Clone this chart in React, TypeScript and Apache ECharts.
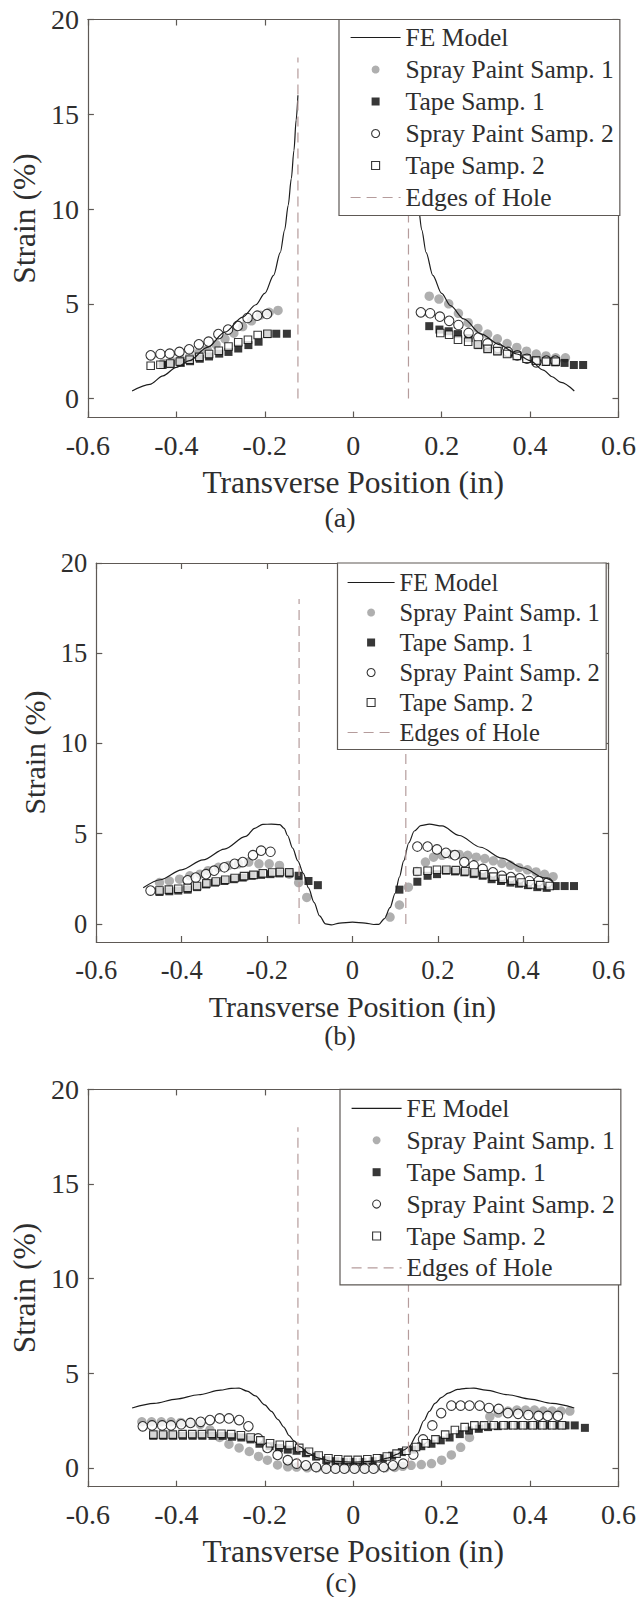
import React, { useEffect, useRef } from "react";
import * as echarts from "echarts";

type Pt = [number, number];

// ---------- axes ----------
const X_TICKS = [-0.6, -0.4, -0.2, 0, 0.2, 0.4, 0.6];
const Y_TICKS = [0, 5, 10, 15, 20];
const X_MIN = -0.6;
const X_MAX = 0.6;
const Y_MIN = -1;
const Y_MAX = 20;

// hole edges (in) and the height the edge markers are drawn to (%)
const HOLE_EDGES = [-0.125, 0.125];
const HOLE_LINE_TOP = 18;

const NAMES = {
  fe: "FE Model",
  sp1: "Spray Paint Samp. 1",
  t1: "Tape Samp. 1",
  sp2: "Spray Paint Samp. 2",
  t2: "Tape Samp. 2",
  edge: "Edges of Hole",
};
const PANEL_LABELS = ["(a)", "(b)", "(c)"];
const X_TITLE = "Transverse Position (in)";
const Y_TITLE = "Strain (%)";

// ---------- panel (a) ----------
const FE_A_LEFT: Pt[] = [
  [-0.5, 0.4], [-0.46, 0.75], [-0.43, 1.2], [-0.4, 1.65], [-0.37, 2.0], [-0.33, 2.7],
  [-0.29, 3.5], [-0.25, 4.3], [-0.22, 4.95], [-0.2, 5.55], [-0.18, 6.5], [-0.165, 7.7],
  [-0.155, 8.9], [-0.147, 10.2], [-0.14, 11.6], [-0.134, 13.1], [-0.129, 14.7], [-0.125, 16.0],
];
const FE_A_RIGHT: Pt[] = [
  [0.125, 16.0], [0.129, 14.7], [0.134, 13.1], [0.14, 11.6], [0.147, 10.2], [0.155, 8.9],
  [0.165, 7.7], [0.18, 6.5], [0.2, 5.55], [0.22, 4.9], [0.25, 4.2], [0.29, 3.4], [0.33, 2.85],
  [0.37, 2.35], [0.4, 2.0], [0.43, 1.5], [0.45, 1.15], [0.47, 0.85], [0.5, 0.4],
];
const SP1_A: Pt[] = [
  [-0.43, 1.85], [-0.41, 1.95], [-0.39, 2.05], [-0.37, 2.2], [-0.35, 2.4], [-0.33, 2.6],
  [-0.31, 2.85], [-0.29, 3.15], [-0.27, 3.45], [-0.25, 3.8], [-0.23, 4.1], [-0.21, 4.4],
  [-0.19, 4.55], [-0.17, 4.65],
  [0.172, 5.4], [0.194, 5.25], [0.216, 5.0], [0.238, 4.5], [0.26, 4.0], [0.282, 3.7],
  [0.304, 3.4], [0.326, 3.15], [0.348, 2.9], [0.37, 2.7], [0.392, 2.5], [0.414, 2.35],
  [0.436, 2.25], [0.458, 2.15], [0.48, 2.15],
];
const T1_A: Pt[] = [
  [-0.431, 1.77], [-0.413, 1.82], [-0.39, 1.88], [-0.369, 1.97], [-0.347, 2.1], [-0.326, 2.22],
  [-0.303, 2.37], [-0.282, 2.46], [-0.26, 2.64], [-0.237, 2.82], [-0.214, 3.0], [-0.194, 3.4],
  [-0.174, 3.42], [-0.15, 3.42],
  [0.172, 3.82], [0.195, 3.64], [0.216, 3.55], [0.237, 3.4], [0.261, 3.19], [0.283, 2.82],
  [0.304, 2.64], [0.327, 2.5], [0.35, 2.37], [0.371, 2.28], [0.393, 2.1], [0.414, 2.0],
  [0.437, 1.95], [0.457, 1.91], [0.478, 1.88], [0.499, 1.77], [0.52, 1.77],
];
const SP2_A: Pt[] = [
  [-0.458, 2.28], [-0.436, 2.35], [-0.415, 2.37], [-0.393, 2.46], [-0.371, 2.6], [-0.349, 2.86],
  [-0.327, 3.0], [-0.305, 3.4], [-0.283, 3.64], [-0.261, 3.83], [-0.239, 4.25], [-0.217, 4.37],
  [-0.195, 4.46],
  [0.153, 4.55], [0.174, 4.5], [0.196, 4.32], [0.217, 4.1], [0.238, 3.88], [0.261, 3.46],
  [0.283, 3.22], [0.304, 2.91], [0.327, 2.68], [0.35, 2.46], [0.371, 2.28], [0.393, 2.1],
  [0.414, 1.91], [0.437, 2.0], [0.457, 2.0],
];
const T2_A: Pt[] = [
  [-0.458, 1.73], [-0.436, 1.78], [-0.414, 1.85], [-0.392, 1.95], [-0.37, 2.05], [-0.348, 2.2],
  [-0.326, 2.35], [-0.304, 2.52], [-0.282, 2.75], [-0.26, 2.97], [-0.238, 3.1], [-0.216, 3.35],
  [-0.194, 3.42],
  [0.197, 3.46], [0.217, 3.37], [0.237, 3.1], [0.26, 3.0], [0.282, 2.85], [0.304, 2.62],
  [0.326, 2.5], [0.348, 2.35], [0.37, 2.25], [0.392, 2.1], [0.414, 2.0], [0.436, 1.95],
  [0.458, 1.95],
];

// ---------- panel (b) ----------
const FE_B: Pt[] = [
  [-0.49, 2.0], [-0.45, 2.45], [-0.4, 3.0], [-0.35, 3.55], [-0.3, 4.15], [-0.25, 4.85],
  [-0.229, 5.3], [-0.21, 5.52], [-0.19, 5.53], [-0.17, 5.5], [-0.16, 5.3], [-0.152, 4.9],
  [-0.14, 4.2], [-0.128, 3.5], [-0.115, 2.8], [-0.103, 2.0], [-0.09, 1.2], [-0.077, 0.45],
  [-0.063, 0.0], [-0.05, -0.05], [-0.03, 0.05], [0, 0.1], [0.03, 0.05], [0.05, -0.03],
  [0.062, -0.02], [0.075, 0.3], [0.088, 0.9], [0.1, 1.7], [0.11, 2.6], [0.12, 3.5],
  [0.132, 4.5], [0.145, 5.15], [0.16, 5.45], [0.18, 5.53], [0.21, 5.43], [0.25, 4.9],
  [0.3, 4.25], [0.35, 3.65], [0.4, 3.1], [0.45, 2.55], [0.47, 2.35],
];
const SP1_B: Pt[] = [
  [-0.452, 2.29], [-0.429, 2.38], [-0.405, 2.48], [-0.381, 2.67], [-0.357, 2.76], [-0.338, 2.95],
  [-0.314, 3.14], [-0.29, 3.24], [-0.267, 3.33], [-0.243, 3.43], [-0.219, 3.33], [-0.195, 3.33],
  [-0.171, 3.24], [-0.148, 2.76], [-0.126, 2.29], [-0.107, 1.47],
  [0.088, 0.38], [0.11, 1.05], [0.131, 2.04], [0.151, 2.9], [0.171, 3.43], [0.19, 3.7],
  [0.21, 3.8], [0.23, 3.85], [0.25, 3.85], [0.27, 3.8], [0.29, 3.7], [0.31, 3.62],
  [0.33, 3.5], [0.35, 3.35], [0.37, 3.25], [0.39, 3.12], [0.41, 3.0], [0.43, 2.88],
  [0.45, 2.75], [0.47, 2.62],
];
const T1_B: Pt[] = [
  [-0.452, 1.77], [-0.429, 1.81], [-0.408, 1.85], [-0.386, 1.9], [-0.364, 2.04], [-0.343, 2.19],
  [-0.322, 2.29], [-0.3, 2.38], [-0.278, 2.48], [-0.257, 2.57], [-0.236, 2.67], [-0.214, 2.72],
  [-0.192, 2.76], [-0.171, 2.8], [-0.148, 2.8], [-0.126, 2.67], [-0.103, 2.38], [-0.081, 2.15],
  [0.11, 1.9], [0.152, 2.34], [0.176, 2.67], [0.198, 2.76], [0.219, 2.95], [0.24, 2.91],
  [0.262, 2.86], [0.284, 2.76], [0.305, 2.67], [0.326, 2.48], [0.348, 2.38], [0.37, 2.29],
  [0.39, 2.23], [0.411, 2.15], [0.433, 2.04], [0.455, 2.0], [0.476, 2.1], [0.497, 2.1],
  [0.519, 2.1],
];
const SP2_B: Pt[] = [
  [-0.473, 1.85], [-0.386, 2.42], [-0.367, 2.57], [-0.343, 2.76], [-0.324, 2.95], [-0.3, 3.14],
  [-0.276, 3.33], [-0.257, 3.43], [-0.233, 3.81], [-0.214, 4.06], [-0.192, 4.0],
  [0.152, 4.29], [0.176, 4.29], [0.198, 4.13], [0.219, 3.94], [0.24, 3.81], [0.262, 3.43],
  [0.284, 3.24], [0.305, 3.05], [0.329, 2.86], [0.35, 2.67], [0.371, 2.6], [0.392, 2.53],
  [0.414, 2.38], [0.436, 2.38], [0.457, 2.29],
];
const T2_B: Pt[] = [
  [-0.452, 1.85], [-0.43, 1.9], [-0.408, 1.95], [-0.386, 2.0], [-0.364, 2.1], [-0.342, 2.25],
  [-0.32, 2.35], [-0.298, 2.45], [-0.276, 2.55], [-0.254, 2.65], [-0.232, 2.72], [-0.21, 2.8],
  [-0.188, 2.85], [-0.17, 2.88], [-0.148, 2.86],
  [0.152, 2.91], [0.176, 2.95], [0.198, 3.0], [0.22, 3.0], [0.242, 2.98], [0.264, 2.92],
  [0.286, 2.85], [0.308, 2.75], [0.33, 2.62], [0.352, 2.5], [0.374, 2.4], [0.396, 2.3],
  [0.418, 2.2], [0.44, 2.15], [0.462, 2.1],
];

// ---------- panel (c) ----------
const FE_C: Pt[] = [
  [-0.5, 3.16], [-0.45, 3.4], [-0.4, 3.63], [-0.35, 3.86], [-0.3, 4.1], [-0.276, 4.2],
  [-0.258, 4.21], [-0.24, 4.05], [-0.221, 3.8], [-0.2, 3.32], [-0.185, 2.98], [-0.17, 2.55],
  [-0.157, 2.15], [-0.145, 1.7], [-0.134, 1.42], [-0.12, 1.1], [-0.1, 0.75], [-0.08, 0.52],
  [-0.05, 0.35], [0, 0.3], [0.05, 0.35], [0.08, 0.52], [0.1, 0.72], [0.115, 0.95],
  [0.126, 1.1], [0.145, 1.78], [0.16, 2.5], [0.172, 2.98], [0.185, 3.4], [0.199, 3.71],
  [0.215, 3.95], [0.236, 4.14], [0.255, 4.2], [0.273, 4.21], [0.3, 4.1], [0.35, 3.86],
  [0.4, 3.63], [0.45, 3.4], [0.5, 3.16],
];
const SP1_C: Pt[] = [
  [-0.478, 2.43], [-0.456, 2.43], [-0.434, 2.43], [-0.412, 2.43], [-0.39, 2.4], [-0.368, 2.38],
  [-0.346, 2.3], [-0.324, 2.0], [-0.302, 1.6], [-0.281, 1.25], [-0.258, 1.05], [-0.235, 0.86],
  [-0.214, 0.6], [-0.194, 0.4], [-0.171, 0.15], [-0.148, 0.05], [-0.128, 0.04], [-0.104, 0.0],
  [-0.082, 0.0], [-0.06, -0.02], [-0.038, -0.03], [-0.016, -0.03], [0.006, -0.03], [0.028, -0.03],
  [0.05, -0.02], [0.072, 0.0], [0.094, 0.02], [0.112, 0.08], [0.131, 0.13], [0.154, 0.17],
  [0.177, 0.22], [0.2, 0.4], [0.222, 0.68], [0.243, 1.08], [0.263, 1.6], [0.286, 2.15],
  [0.309, 2.7], [0.328, 2.89], [0.35, 3.0], [0.37, 3.05], [0.39, 3.05], [0.41, 3.05],
  [0.43, 3.0], [0.45, 3.0], [0.47, 3.0], [0.49, 3.0],
];
const T1_C: Pt[] = [
  [-0.452, 1.69], [-0.429, 1.69], [-0.407, 1.69], [-0.385, 1.69], [-0.363, 1.69], [-0.341, 1.69],
  [-0.318, 1.69], [-0.295, 1.69], [-0.274, 1.64], [-0.253, 1.6], [-0.232, 1.5], [-0.212, 1.27],
  [-0.189, 1.14], [-0.168, 1.05], [-0.148, 0.96], [-0.128, 0.9], [-0.107, 0.77], [-0.084, 0.59],
  [-0.061, 0.4], [-0.04, 0.35], [-0.02, 0.31], [0, 0.31], [0.021, 0.31], [0.044, 0.35],
  [0.067, 0.5], [0.088, 0.64], [0.11, 0.83], [0.134, 0.96], [0.154, 1.14], [0.177, 1.27],
  [0.198, 1.45], [0.218, 1.6], [0.241, 1.78], [0.262, 1.97], [0.284, 2.06], [0.305, 2.15],
  [0.327, 2.2], [0.35, 2.24], [0.372, 2.24], [0.394, 2.24], [0.416, 2.24], [0.438, 2.24],
  [0.46, 2.24], [0.48, 2.24], [0.501, 2.24], [0.524, 2.11],
];
const SP2_C: Pt[] = [
  [-0.476, 2.19], [-0.455, 2.24], [-0.432, 2.24], [-0.412, 2.24], [-0.389, 2.3], [-0.368, 2.37],
  [-0.345, 2.43], [-0.324, 2.52], [-0.302, 2.61], [-0.281, 2.61], [-0.258, 2.52], [-0.237, 2.19],
  [-0.215, 1.55], [-0.194, 1.05], [-0.171, 0.68], [-0.148, 0.4], [-0.128, 0.22], [-0.107, 0.13],
  [-0.084, 0.04], [-0.061, -0.05], [-0.04, -0.05], [-0.02, -0.05], [0.003, -0.05], [0.026, -0.05],
  [0.046, -0.05], [0.069, 0.04], [0.09, 0.13], [0.113, 0.22], [0.136, 0.7], [0.158, 1.5],
  [0.179, 2.24], [0.199, 2.89], [0.222, 3.29], [0.243, 3.29], [0.263, 3.29], [0.286, 3.29],
  [0.307, 3.16], [0.329, 3.11], [0.35, 2.89], [0.373, 2.85], [0.396, 2.79], [0.419, 2.74],
  [0.44, 2.74], [0.463, 2.74],
];
const T2_C: Pt[] = [
  [-0.452, 1.75], [-0.43, 1.75], [-0.408, 1.75], [-0.386, 1.78], [-0.364, 1.78], [-0.342, 1.78],
  [-0.32, 1.8], [-0.298, 1.8], [-0.276, 1.78], [-0.254, 1.72], [-0.232, 1.6], [-0.21, 1.45],
  [-0.188, 1.3], [-0.166, 1.22], [-0.144, 1.2], [-0.122, 1.05], [-0.1, 0.85], [-0.078, 0.65],
  [-0.056, 0.5], [-0.034, 0.45], [-0.012, 0.42], [0.01, 0.42], [0.032, 0.45], [0.054, 0.5],
  [0.076, 0.6], [0.098, 0.75], [0.12, 0.9], [0.142, 1.1], [0.164, 1.3], [0.186, 1.5],
  [0.208, 1.75], [0.23, 2.0], [0.252, 2.15], [0.274, 2.24], [0.296, 2.24], [0.318, 2.25],
  [0.34, 2.25], [0.362, 2.25], [0.384, 2.25], [0.406, 2.25], [0.428, 2.25], [0.45, 2.25],
  [0.472, 2.25],
];

const PANEL_DATA = [
  { fe: [FE_A_LEFT, FE_A_RIGHT], sp1: SP1_A, t1: T1_A, sp2: SP2_A, t2: T2_A },
  { fe: [FE_B], sp1: SP1_B, t1: T1_B, sp2: SP2_B, t2: T2_B },
  { fe: [FE_C], sp1: SP1_C, t1: T1_C, sp2: SP2_C, t2: T2_C },
];

// ---------- styling / layout ----------
const FONT = "'Liberation Serif', 'Times New Roman', serif";
const AXIS_COLOR = "#5e5955";
const TEXT_COLOR = "#2e2e2e";
const EDGE_COLOR = "#b59c9c";
const GRAY_FILL = "#9b9b9b";
const INK = "#050505";
const SQUARE_ICON = "path://M0,0H10V10H0Z";

const LAYOUT = [
  {
    top: 19.5, height: 398, left: 83.5, right: 19.5,
    tick: 28, title: 31.5, yNameGap: 43, xNameGap: 49,
    legend: { left: 339, top: 19.5, itemWidth: 50, font: 25.5, lineHeight: 26, gap: 6, padding: [5, 6, 5, 11] },
    caption: { x: 340, y: 517, size: 28 },
  },
  {
    top: 563, height: 379, left: 96.3, right: 30.4,
    tick: 26.5, title: 30, yNameGap: 42, xNameGap: 49,
    legend: { left: 337.5, top: 563, itemWidth: 47, font: 24.5, lineHeight: 25, gap: 5, padding: [7, 6.5, 4.5, 9.5] },
    caption: { x: 340, y: 1035.5, size: 27 },
  },
  {
    top: 1089.4, height: 397.3, left: 83.5, right: 19.5,
    tick: 28, title: 31.5, yNameGap: 43, xNameGap: 49,
    legend: { left: 340, top: 1089.4, itemWidth: 50, font: 25.5, lineHeight: 26, gap: 5.9, padding: [6, 6, 4, 11] },
    caption: { x: 341, y: 1582, size: 28 },
  },
];

const fmtX = (v: number) => (Math.abs(v) < 1e-9 ? "0" : v.toFixed(1));

function buildOption() {
  const lineStyle = { color: AXIS_COLOR, width: 1.2 };
  const grid: any[] = [];
  const xAxis: any[] = [];
  const yAxis: any[] = [];
  const series: any[] = [];
  const legend: any[] = [];
  const graphic: any[] = [];

  const legendItems = [
    { name: NAMES.fe, itemStyle: { opacity: 0 } },
    { name: NAMES.sp1, icon: "circle", itemStyle: { color: GRAY_FILL, borderWidth: 0 } },
    { name: NAMES.t1, icon: SQUARE_ICON, itemStyle: { color: INK, borderWidth: 0 } },
    { name: NAMES.sp2, icon: "circle", itemStyle: { color: "#fff", borderColor: INK, borderWidth: 1.1 } },
    { name: NAMES.t2, icon: SQUARE_ICON, itemStyle: { color: "#fff", borderColor: INK, borderWidth: 1.1 } },
    { name: NAMES.edge, itemStyle: { opacity: 0 } },
  ];

  LAYOUT.forEach((p, g) => {
    grid.push({ left: p.left, right: p.right, top: p.top, height: p.height, containLabel: false });

    const tickFont = { fontFamily: FONT, fontSize: p.tick, color: TEXT_COLOR };
    const titleFont = { fontFamily: FONT, fontSize: p.title, color: TEXT_COLOR };

    xAxis.push(
      {
        gridIndex: g, type: "value", position: "bottom", min: X_MIN, max: X_MAX,
        axisLine: { show: true, onZero: false, lineStyle },
        axisTick: { show: true, inside: true, length: 6, customValues: X_TICKS, lineStyle },
        axisLabel: {
          customValues: X_TICKS, margin: 14, ...tickFont,
          formatter: (v: number) => `{t|${fmtX(v)}}`,
          rich: { t: tickFont },
        },
        splitLine: { show: false },
        name: `{t|${X_TITLE}}`, nameLocation: "middle", nameGap: p.xNameGap,
        nameTextStyle: { ...titleFont, rich: { t: titleFont } },
      },
      {
        gridIndex: g, type: "value", position: "top", min: X_MIN, max: X_MAX,
        axisLine: { show: true, onZero: false, lineStyle },
        axisTick: { show: true, inside: true, length: 6, customValues: X_TICKS, lineStyle },
        axisLabel: { show: false },
        splitLine: { show: false },
      }
    );
    yAxis.push(
      {
        gridIndex: g, type: "value", position: "left", min: Y_MIN, max: Y_MAX,
        axisLine: { show: true, onZero: false, lineStyle },
        axisTick: { show: true, inside: true, length: 6, customValues: Y_TICKS, lineStyle },
        axisLabel: {
          customValues: Y_TICKS, margin: 9, ...tickFont,
          formatter: (v: number) => `{t|${v}}`,
          rich: { t: tickFont },
        },
        splitLine: { show: false },
        name: `{t|${Y_TITLE}}`, nameLocation: "middle", nameGap: p.yNameGap, nameRotate: 90,
        nameTextStyle: { ...titleFont, rich: { t: titleFont } },
      },
      {
        gridIndex: g, type: "value", position: "right", min: Y_MIN, max: Y_MAX,
        axisLine: { show: true, onZero: false, lineStyle },
        axisTick: { show: true, inside: true, length: 6, customValues: Y_TICKS, lineStyle },
        axisLabel: { show: false },
        splitLine: { show: false },
      }
    );

    const d = PANEL_DATA[g];
    const axes = { xAxisIndex: 2 * g, yAxisIndex: 2 * g };

    d.fe.forEach((seg) => {
      series.push({
        type: "line", name: NAMES.fe, ...axes, data: seg, symbol: "none",
        smooth: 0.3, smoothMonotone: "x",
        lineStyle: { color: "#1c1c1c", width: 1.2 }, itemStyle: { color: "#1c1c1c" },
      });
    });
    series.push(
      { type: "scatter", name: NAMES.sp1, ...axes, data: d.sp1, symbol: "circle", symbolSize: 9.5,
        itemStyle: { color: GRAY_FILL } },
      { type: "scatter", name: NAMES.t1, ...axes, data: d.t1, symbol: "rect", symbolSize: 8,
        itemStyle: { color: INK } },
      { type: "scatter", name: NAMES.sp2, ...axes, data: d.sp2, symbol: "circle", symbolSize: 9.5,
        itemStyle: { color: "#fff", borderColor: INK, borderWidth: 1.1 } },
      { type: "scatter", name: NAMES.t2, ...axes, data: d.t2, symbol: "rect", symbolSize: 7.5,
        itemStyle: { color: "#fff", borderColor: INK, borderWidth: 1.1 } }
    );
    HOLE_EDGES.forEach((e) => {
      series.push({
        type: "line", name: NAMES.edge, ...axes,
        data: [[e, 0], [e, HOLE_LINE_TOP]], symbol: "none",
        lineStyle: { color: EDGE_COLOR, width: 1.2, type: [10, 6] },
        itemStyle: { color: EDGE_COLOR },
      });
    });

    const L = p.legend;
    legend.push({
      orient: "vertical", align: "left", left: L.left, top: L.top,
      padding: L.padding, itemGap: L.gap, itemWidth: L.itemWidth, itemHeight: 8,
      backgroundColor: "#fff", borderColor: AXIS_COLOR, borderWidth: 1.2, borderRadius: 0,
      selectedMode: false,
      textStyle: { fontFamily: FONT, fontSize: L.font, lineHeight: L.lineHeight, color: TEXT_COLOR },
      lineStyle: { width: 1.2 },
      data: legendItems,
    });

    graphic.push({
      type: "text", x: p.caption.x, y: p.caption.y,
      style: {
        text: PANEL_LABELS[g], fontFamily: FONT, fontSize: p.caption.size, fill: TEXT_COLOR,
        align: "center", verticalAlign: "middle", textAlign: "center", textVerticalAlign: "middle",
      },
    });
  });

  return {
    animation: false,
    backgroundColor: "#fff",
    textStyle: { fontFamily: FONT, color: TEXT_COLOR },
    grid, xAxis, yAxis, series, legend, graphic,
  };
}

export default function App() {
  const ref = useRef<HTMLDivElement>(null);
  useEffect(() => {
    if (!ref.current) return;
    const chart = echarts.init(ref.current, undefined, { renderer: "svg" });
    chart.setOption(buildOption() as any);
    return () => chart.dispose();
  }, []);
  return (
    <div
      ref={ref}
      style={{ position: "absolute", left: 0, top: 0, width: 639, height: 1597, background: "#fff" }}
    />
  );
}
